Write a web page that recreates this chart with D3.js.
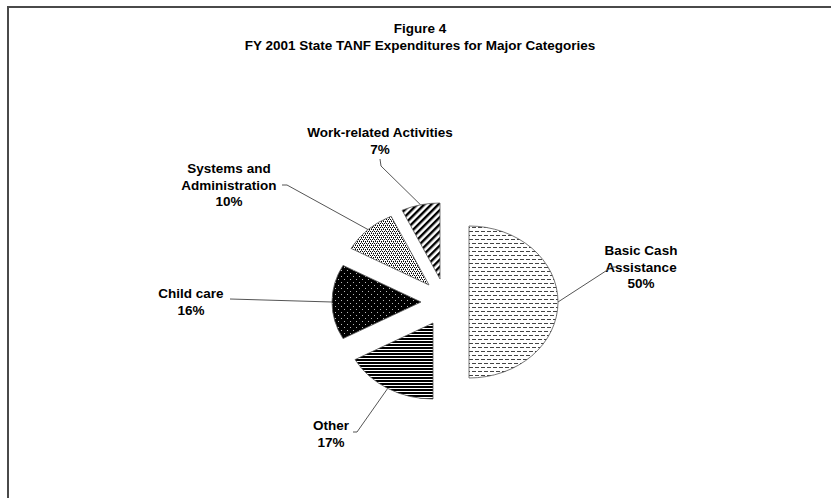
<!DOCTYPE html>
<html>
<head>
<meta charset="utf-8">
<script src="https://cdn.jsdelivr.net/npm/d3@7"></script>
<style>
  body { margin: 0; background: #fff; }
  svg { display: block; }
  text { font-family: "Liberation Sans", Arial, sans-serif; font-weight: bold; fill: #000; }
</style>
</head>
<body>
<svg id="chart" width="831" height="498"></svg>
<script>
// slices, clockwise from 12 o'clock
const categories = ["Basic Cash Assistance", "Other", "Child care", "Systems and Administration", "Work-related Activities"];
const shares = [50, 17, 16, 10, 7];
const labelLines = [["Basic Cash", "Assistance", "50%"], ["Other", "17%"], ["Child care", "16%"], ["Systems and", "Administration", "10%"], ["Work-related Activities", "7%"]];
const patterns = ["hdash", "hlines", "wdots", "kdots", "diag"];

const width = 831, height = 498;
const cx = 445, cy = 302;      // pie centre
const rx = 89, ry = 76;        // pie is a bit squashed vertically
const explode = 24;

const svg = d3.select("#chart");

// frame (top + left only visible)
svg.append("path")
  .attr("d", `M8,${height} L8,7 L${width},7`)
  .attr("fill", "none").attr("stroke", "#4a4a4a").attr("stroke-width", 2);

// title
const title = svg.append("text").attr("text-anchor", "middle").style("font-size", "13.5px");
title.append("tspan").attr("x", 420).attr("y", 33).text("Figure 4");
title.append("tspan").attr("x", 420).attr("y", 50).text("FY 2001 State TANF Expenditures for Major Categories");

// fill patterns
const defs = svg.append("defs");
let p = defs.append("pattern").attr("id", "hdash").attr("patternUnits", "userSpaceOnUse").attr("width", 6).attr("height", 8);
p.append("rect").attr("width", 6).attr("height", 8).attr("fill", "#fff");
p.append("path").attr("d", "M0,1.5h4M3,5.5h3M0,5.5h1").attr("stroke", "#444").attr("stroke-width", 1);

p = defs.append("pattern").attr("id", "hlines").attr("patternUnits", "userSpaceOnUse").attr("width", 4).attr("height", 3);
p.append("rect").attr("width", 4).attr("height", 3).attr("fill", "#fff");
p.append("rect").attr("y", 0).attr("width", 4).attr("height", 2).attr("fill", "#000");

p = defs.append("pattern").attr("id", "wdots").attr("patternUnits", "userSpaceOnUse").attr("width", 6).attr("height", 6);
p.append("rect").attr("width", 6).attr("height", 6).attr("fill", "#000");
p.append("rect").attr("x", 1).attr("y", 1).attr("width", 1).attr("height", 1).attr("fill", "#bbb");
p.append("rect").attr("x", 4).attr("y", 4).attr("width", 1).attr("height", 1).attr("fill", "#bbb");

p = defs.append("pattern").attr("id", "kdots").attr("patternUnits", "userSpaceOnUse").attr("width", 4).attr("height", 4);
p.append("rect").attr("width", 4).attr("height", 4).attr("fill", "#fff");
p.append("rect").attr("x", 0).attr("y", 0).attr("width", 1).attr("height", 1).attr("fill", "#000");
p.append("rect").attr("x", 2).attr("y", 0).attr("width", 1).attr("height", 1).attr("fill", "#000");
p.append("rect").attr("x", 1).attr("y", 2).attr("width", 1).attr("height", 1).attr("fill", "#000");
p.append("rect").attr("x", 3).attr("y", 2).attr("width", 1).attr("height", 1).attr("fill", "#000");
p.append("rect").attr("x", 0).attr("y", 1).attr("width", 1).attr("height", 1).attr("fill", "#666");
p.append("rect").attr("x", 2).attr("y", 3).attr("width", 1).attr("height", 1).attr("fill", "#666");

p = defs.append("pattern").attr("id", "diag").attr("patternUnits", "userSpaceOnUse").attr("width", 5).attr("height", 5)
  .attr("patternTransform", "rotate(45)");
p.append("rect").attr("width", 5).attr("height", 5).attr("fill", "#fff");
p.append("rect").attr("width", 2.4).attr("height", 5).attr("fill", "#000");

const data = categories.map((c, i) => ({ name: c, value: shares[i], lines: labelLines[i], fill: patterns[i] }));
const pie = d3.pie().sort(null).value(d => d.value);
const arcs = pie(data);

// point on the (squashed) rim at angle a, measured clockwise from top
const rim = a => [rx * Math.sin(a), -ry * Math.cos(a)];

function slicePath(d) {
  const [x0, y0] = rim(d.startAngle), [x1, y1] = rim(d.endAngle);
  const large = d.endAngle - d.startAngle > Math.PI ? 1 : 0;
  return `M0,0L${x0},${y0}A${rx},${ry} 0 ${large} 1 ${x1},${y1}Z`;
}
const mid = d => (d.startAngle + d.endAngle) / 2;
// rounded so the fill patterns sit on whole pixels
const off = d => [Math.round(explode * Math.sin(mid(d))), Math.round(-explode * Math.cos(mid(d)))];

svg.append("g").selectAll("path")
  .data(arcs)
  .join("path")
  .attr("transform", d => `translate(${cx + off(d)[0]},${cy + off(d)[1]})`)
  .attr("d", slicePath)
  .attr("fill", d => `url(#${d.data.fill})`)
  .attr("stroke", "#555")
  .attr("stroke-width", 0.8);

// label anchors (centre of first line baseline) and leader starting points
const labelPos = [[641, 255], [331, 430], [191, 298], [229, 173], [380, 137]];
const leaderStart = [[[616, 267], [612, 267]], [[353, 432], [357, 432]], [[230, 299]], [[282, 185], [287, 185]], [[380, 159], [381, 166]]];

const labels = svg.append("g").selectAll("text")
  .data(arcs)
  .join("text")
  .attr("text-anchor", "middle")
  .style("font-size", "13.5px");
labels.selectAll("tspan")
  .data((d, i) => d.data.lines.map(t => ({ t, i })))
  .join("tspan")
  .attr("x", d => labelPos[d.i][0])
  .attr("y", (d, j) => labelPos[d.i][1] + j * 16.5)
  .text(d => d.t);

svg.append("g").selectAll("polyline")
  .data(arcs)
  .join("polyline")
  .attr("points", (d, i) => {
    const o = off(d), r = rim(mid(d));
    const end = [cx + o[0] + r[0], cy + o[1] + r[1]];
    return leaderStart[i].concat([end]).map(q => q.join(",")).join(" ");
  })
  .attr("fill", "none")
  .attr("stroke", "#555")
  .attr("stroke-width", 1);
</script>
</body>
</html>
